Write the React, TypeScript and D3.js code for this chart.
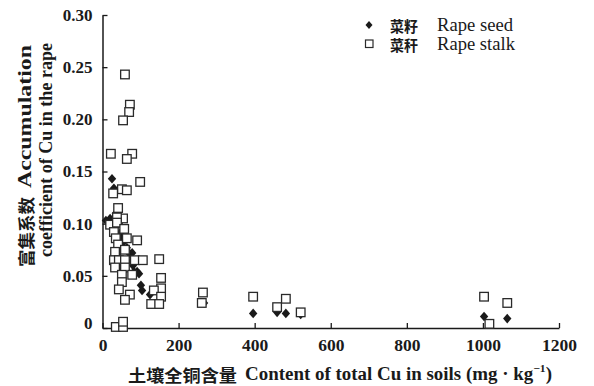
import React, { useRef, useEffect } from "react";
import * as d3 from "d3";

// Rape seed (菜籽): soil Cu (mg/kg), accumulation coefficient
const seedCu = [25, 30, 35, 20, 9, 43, 49, 56, 51, 64, 72, 78, 67, 80, 83, 91, 96, 101, 104, 125, 59, 46, 41, 267, 396, 459, 482, 521, 1003, 1064];
const seedCoef = [0.143, 0.134, 0.110, 0.105, 0.103, 0.100, 0.092, 0.083, 0.087, 0.077, 0.071, 0.072, 0.063, 0.060, 0.054, 0.054, 0.052, 0.041, 0.036, 0.032, 0.056, 0.067, 0.077, 0.024, 0.014, 0.015, 0.014, 0.013, 0.011, 0.009];

// Rape stalk (菜秆)
const stalkCu = [59, 72, 70, 54, 22, 78, 64, 99, 51, 64, 28, 41, 54, 38, 20, 38, 57, 30, 35, 64, 91, 41, 33, 59, 30, 43, 59, 85, 106, 149, 33, 59, 51, 78, 154, 51, 154, 43, 135, 72, 154, 59, 128, 149, 35, 54, 54, 264, 261, 396, 459, 482, 521, 1003, 1017, 1064];
const stalkCoef = [0.243, 0.214, 0.207, 0.199, 0.167, 0.167, 0.162, 0.140, 0.133, 0.132, 0.129, 0.115, 0.105, 0.106, 0.099, 0.101, 0.095, 0.092, 0.086, 0.086, 0.084, 0.080, 0.073, 0.075, 0.065, 0.065, 0.065, 0.065, 0.065, 0.066, 0.058, 0.058, 0.051, 0.051, 0.048, 0.044, 0.038, 0.037, 0.036, 0.032, 0.030, 0.027, 0.023, 0.023, 0.001, 0.001, 0.006, 0.034, 0.024, 0.030, 0.020, 0.028, 0.015, 0.030, 0.004, 0.024];

const xTicks = [0, 200, 400, 600, 800, 1000, 1200];
const yTicks = [0, 0.05, 0.10, 0.15, 0.20, 0.25, 0.30];
const yTickLabels = ["0", "0.05", "0.10", "0.15", "0.20", "0.25", "0.30"];

const serif = "'Liberation Serif', 'Times New Roman', serif";
const cjk = "'Noto Sans CJK SC', sans-serif";

const App: React.FC = () => {
    const svgRef = useRef<SVGSVGElement | null>(null);

    useEffect(() => {
        if (!svgRef.current) return;
        const width = 594;
        const height = 386;

        const x = d3.scaleLinear().domain([0, 1200]).range([102.5, 559]);
        const y = d3.scaleLinear().domain([0, 0.30]).range([328, 15]);

        const svg = d3.select(svgRef.current)
            .attr("width", width)
            .attr("height", height);
        svg.selectAll("*").remove();

        const ink = "#1a1a1a";

        // axes
        const xAxis = svg.append("g")
            .attr("transform", `translate(0,${y(0)})`)
            .call(d3.axisBottom(x).tickValues(xTicks).tickSizeInner(-5).tickSizeOuter(0).tickPadding(9).tickFormat(d3.format("d")));
        xAxis.select(".domain").attr("stroke", ink).attr("stroke-width", 1.5);
        xAxis.selectAll(".tick line").attr("stroke", ink).attr("stroke-width", 1.3);
        xAxis.selectAll(".tick text")
            .attr("fill", ink)
            .style("font-family", serif)
            .style("font-size", "17.5px")
            .style("font-weight", "bold")
            .attr("dy", "0.8em");

        const yAxis = svg.append("g")
            .attr("transform", `translate(${x(0)},0)`)
            .call(d3.axisLeft(y).tickValues(yTicks).tickSizeInner(-5).tickSizeOuter(0).tickPadding(10)
                .tickFormat((d, i) => yTickLabels[i]));
        yAxis.select(".domain").attr("stroke", ink).attr("stroke-width", 1.5);
        yAxis.selectAll(".tick line").attr("stroke", ink).attr("stroke-width", 1.3);
        yAxis.selectAll(".tick text")
            .attr("fill", ink)
            .style("font-family", serif)
            .style("font-size", "17px")
            .style("font-weight", "bold");
        yAxis.selectAll(".tick").filter((d: any) => d === 0).select("text").attr("dy", "0.05em");

        // points: seeds first, stalks (white squares) on top
        const seeds = seedCu.map((v, i) => [v, seedCoef[i]]);
        const stalks = stalkCu.map((v, i) => [v, stalkCoef[i]]);

        const diamond = "M0,-4.8L4.2,0L0,4.8L-4.2,0Z";
        svg.append("g").selectAll("path")
            .data(seeds)
            .join("path")
            .attr("d", diamond)
            .attr("transform", d => `translate(${x(d[0])},${y(d[1])})`)
            .attr("fill", ink);

        const s = 8.6;
        svg.append("g").selectAll("rect")
            .data(stalks)
            .join("rect")
            .attr("x", d => x(d[0]) - s / 2)
            .attr("y", d => y(d[1]) - s / 2)
            .attr("width", s)
            .attr("height", s)
            .attr("fill", "white")
            .attr("stroke", "#2a2a2a")
            .attr("stroke-width", 1.3);

        // helper for fitted text
        const label = (g: any, txt: string, tx: number, ty: number, len: number, font: string, size: number, weight: string, adj = "spacingAndGlyphs") =>
            g.append("text")
                .attr("x", tx).attr("y", ty)
                .attr("dominant-baseline", "central")
                .attr("textLength", len).attr("lengthAdjust", adj)
                .attr("fill", ink)
                .style("font-family", font).style("font-size", `${size}px`).style("font-weight", weight)
                .text(txt);

        // legend
        const lg = svg.append("g");
        lg.append("path").attr("d", "M0,-4L3.5,0L0,4L-3.5,0Z").attr("fill", ink)
            .attr("transform", "translate(369,25)");
        lg.append("rect").attr("x", 365.5).attr("y", 40).attr("width", 7.5).attr("height", 7.5)
            .attr("fill", "white").attr("stroke", "#2a2a2a").attr("stroke-width", 1.2);
        label(lg, "菜籽", 390, 25, 28, cjk, 15, "bold");
        label(lg, "Rape seed", 437, 25, 76, serif, 18, "normal");
        label(lg, "菜秆", 390, 44, 28, cjk, 15, "bold");
        label(lg, "Rape stalk", 437, 44, 78, serif, 18, "normal");

        // x title
        const xg = svg.append("g");
        label(xg, "土壤全铜含量", 128, 374, 109, cjk, 17, "bold");
        const xt = xg.append("text").attr("x", 245).attr("y", 374)
            .attr("dominant-baseline", "central")
            .attr("textLength", 307).attr("lengthAdjust", "spacingAndGlyphs")
            .attr("fill", ink).style("font-family", serif).style("font-size", "18px").style("font-weight", "bold");
        xt.append("tspan").text("Content of total Cu in soils (mg · kg");
        xt.append("tspan").text("−1").attr("dy", -6).style("font-size", "11px");
        xt.append("tspan").text(")").attr("dy", 6);

        // y title (rotated)
        const y1 = svg.append("g").attr("transform", "translate(25,0) rotate(-90)");
        label(y1, "富集系数", -267, 0, 70, cjk, 17, "bold");
        label(y1, "Accumulation", -188, 0, 143, serif, 18.5, "bold");
        const y2 = svg.append("g").attr("transform", "translate(46,0) rotate(-90)");
        label(y2, "coefficient of Cu in the rape", -257, 0, 214, serif, 18.5, "bold");
    }, []);

    return <svg ref={svgRef} style={{ position: "absolute", left: 0, top: 0, background: "white" }} />;
};

export default App;
